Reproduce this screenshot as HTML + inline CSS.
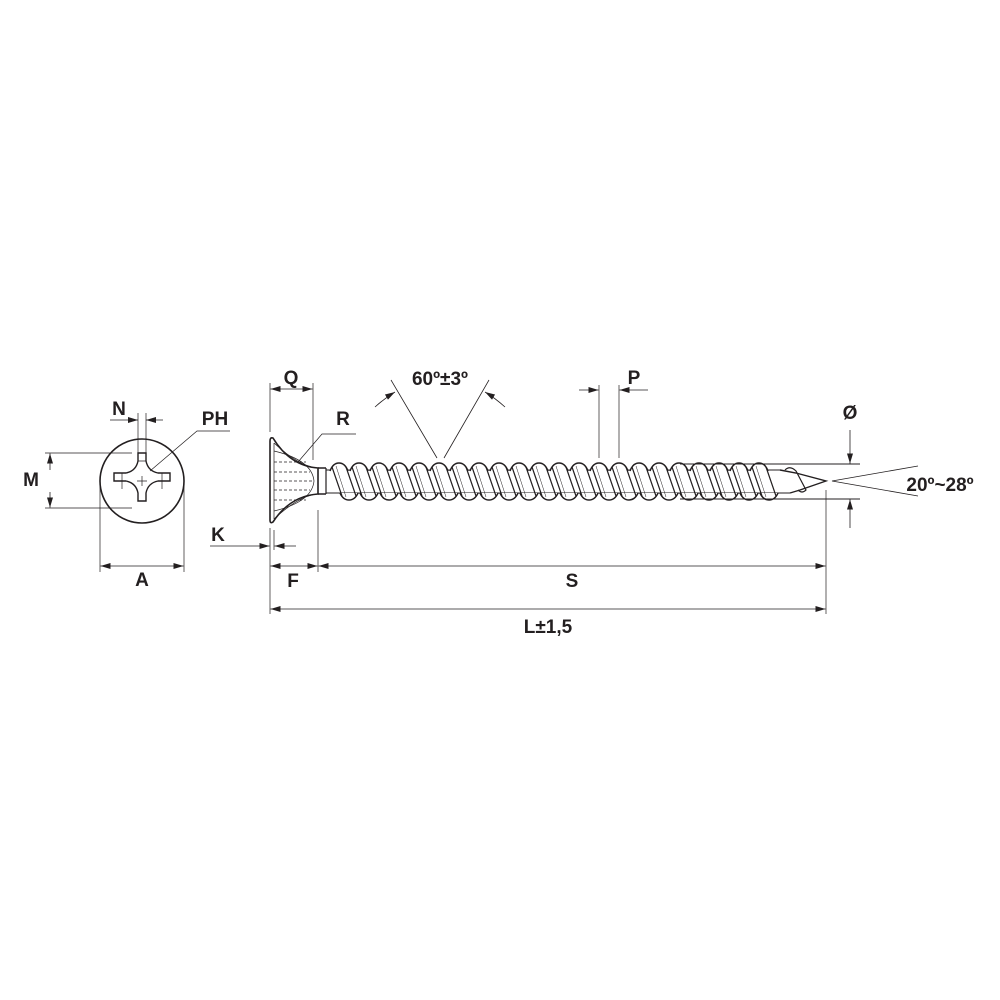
<!DOCTYPE html>
<html><head><meta charset="utf-8"><style>
html,body{margin:0;padding:0;background:#fff;width:1000px;height:1000px;overflow:hidden}
svg text{font-family:"Liberation Sans",sans-serif;font-weight:bold;font-size:19px;fill:#231f20;text-anchor:middle}
</style></head><body>
<svg id="s" width="1000" height="1000" viewBox="0 0 1000 1000" xmlns="http://www.w3.org/2000/svg">
<defs>
<marker id="a" viewBox="0 0 10 6" refX="10" refY="3" markerWidth="10" markerHeight="6" orient="auto" markerUnits="userSpaceOnUse"><path d="M0,0 L10,3 L0,6z" fill="#231f20"/></marker>
</defs>
<g stroke="#231f20" fill="none" stroke-width="1">
<circle cx="142" cy="481" r="42" stroke-width="1.6"/>
<path d="M138,453 h8 v8 q2,10 12,12 h12 v8 h-12 q-10,2 -12,12 v8 h-8 v-8 q-2,-10 -12,-12 h-12 v-8 h12 q10,-2 12,-12z" stroke-width="1.4"/>
<path d="M142,476 v10 M137,481 h10" stroke-width="0.7"/>
<path d="M138,461h8 M146,501h-8 M122,473v16 M162,473v16" stroke-width="0.7"/>
<path d="M45,453 H132 M45,508 H132" stroke-width="0.7"/>
<path d="M50,470 V453.5" marker-end="url(#a)" stroke-width="0.8"/>
<path d="M50,492 V507.5" marker-end="url(#a)" stroke-width="0.8"/>
<path d="M138,413 V460 M146,413 V460" stroke-width="0.7"/>
<path d="M110,420 H138" marker-end="url(#a)" stroke-width="0.8"/>
<path d="M163,420 H146" marker-end="url(#a)" stroke-width="0.8"/>
<path d="M150,471 L197,431 H230" stroke-width="0.7"/>
<path d="M100,485 V572 M184,485 V572" stroke-width="0.7"/>
<path d="M142,566 H100.5" marker-end="url(#a)" stroke-width="0.8"/>
<path d="M142,566 H183.5" marker-end="url(#a)" stroke-width="0.8"/>

<path d="M270,441 Q270,437 273,438 Q290,466 318,468 V494 Q290,496 273,522 Q270,524 270,520 Z" stroke-width="1.6" fill="#fff"/>
<path d="M274,443 Q300,467 318,468 M274,519 Q300,495 318,494" stroke-width="0.7"/>
<path d="M274,451 Q312,460 314,481 Q312,502 274,511" stroke-width="0.7"/>
<path d="M274,462h32 M274,472h36 M274,481h38 M274,490h36 M274,500h32" stroke-width="0.7" stroke-dasharray="3,2"/>
<path d="M274,443 V519" stroke-width="0.7"/>
<path d="M318,468 H326 M318,494 H326" stroke-width="1.4"/>
<g id="th"></g>
<path d="M780,470 L796,473 L826,481 L800,490 L790,493" stroke-width="1.4"/>
<path d="M785,470 Q790,465 796,471 L806,490 Q802,494 798,490" stroke-width="1.2"/>

<path d="M270,383 V432 M313,383 V460" stroke-width="0.7"/>
<path d="M291,389 H270.5" marker-end="url(#a)" stroke-width="0.8"/>
<path d="M291,389 H312.5" marker-end="url(#a)" stroke-width="0.8"/>
<path d="M298,462 L322,434 H356" stroke-width="0.7"/>
<path d="M437,458 L391,380 M444,458 L489,380" stroke-width="0.8"/>
<path d="M375,407 Q385,398 395,392" marker-end="url(#a)" stroke-width="0.8"/>
<path d="M505,407 Q495,398 485,392" marker-end="url(#a)" stroke-width="0.8"/>
<path d="M599,385 V458 M619,385 V458" stroke-width="0.7"/>
<path d="M579,390 H598.5" marker-end="url(#a)" stroke-width="0.8"/>
<path d="M648,390 H619.5" marker-end="url(#a)" stroke-width="0.8"/>
<path d="M680,464 H860 M680,499 H860" stroke-width="0.9"/>
<path d="M850,430 V463.5" marker-end="url(#a)" stroke-width="0.8"/>
<path d="M850,528 V499.5" marker-end="url(#a)" stroke-width="0.8"/>
<path d="M918,466 L832,481 L918,496" stroke-width="0.8"/>
<path d="M270,528 V614 M274,530 V550 M318,510 V572 M826,490 V614" stroke-width="0.7"/>
<path d="M210,546 H269.5" marker-end="url(#a)" stroke-width="0.8"/>
<path d="M296,546 H274.5" marker-end="url(#a)" stroke-width="0.8"/>
<path d="M294,566 H270.5" marker-end="url(#a)" stroke-width="0.8"/>
<path d="M294,566 H317.5" marker-end="url(#a)" stroke-width="0.8"/>
<path d="M572,566 H318.5" marker-end="url(#a)" stroke-width="0.8"/>
<path d="M572,566 H825.5" marker-end="url(#a)" stroke-width="0.8"/>
<path d="M548,609 H270.5" marker-end="url(#a)" stroke-width="0.8"/>
<path d="M548,609 H825.5" marker-end="url(#a)" stroke-width="0.8"/>
</g>
<text x="119" y="415">N</text>
<text x="215" y="425">PH</text>
<text x="31" y="486">M</text>
<text x="142" y="586">A</text>
<text x="291" y="384">Q</text>
<text x="343" y="425">R</text>
<text x="440" y="385">60º±3º</text>
<text x="634" y="384">P</text>
<text x="850" y="419">Ø</text>
<text x="940" y="491">20º~28º</text>
<text x="218" y="541">K</text>
<text x="293" y="587">F</text>
<text x="572" y="587">S</text>
<text x="548" y="633">L±1,5</text>
</svg>
<script>
var g=document.getElementById('th'),h='';
h+='<path d="M326,470 H780 M326,493 H790" stroke-width="1"/>';
h+='<path d="M326,468 V494" stroke-width="1.2"/>';
for(var x=339;x<=759;x+=20){
 h+='<path d="M'+(x-9)+',471 Q'+(x-6)+',463 '+x+',463 Q'+(x+6)+',463 '+(x+9)+',471" stroke-width="1.5" fill="#fff"/>';
 h+='<path d="M'+(x+1)+',493 Q'+(x+4)+',500 '+(x+10)+',500 Q'+(x+16)+',500 '+(x+19)+',493" stroke-width="1.5" fill="#fff"/>';
 h+='<path d="M'+(x-7)+',467 L'+(x+3)+',496 M'+(x+7)+',467 L'+(x+17)+',496" stroke-width="1.2"/>';
 h+='<path d="M'+(x-3)+',466 L'+(x+7)+',497" stroke-width="0.5"/>';
}
g.innerHTML=h;
</script>
</body></html>
